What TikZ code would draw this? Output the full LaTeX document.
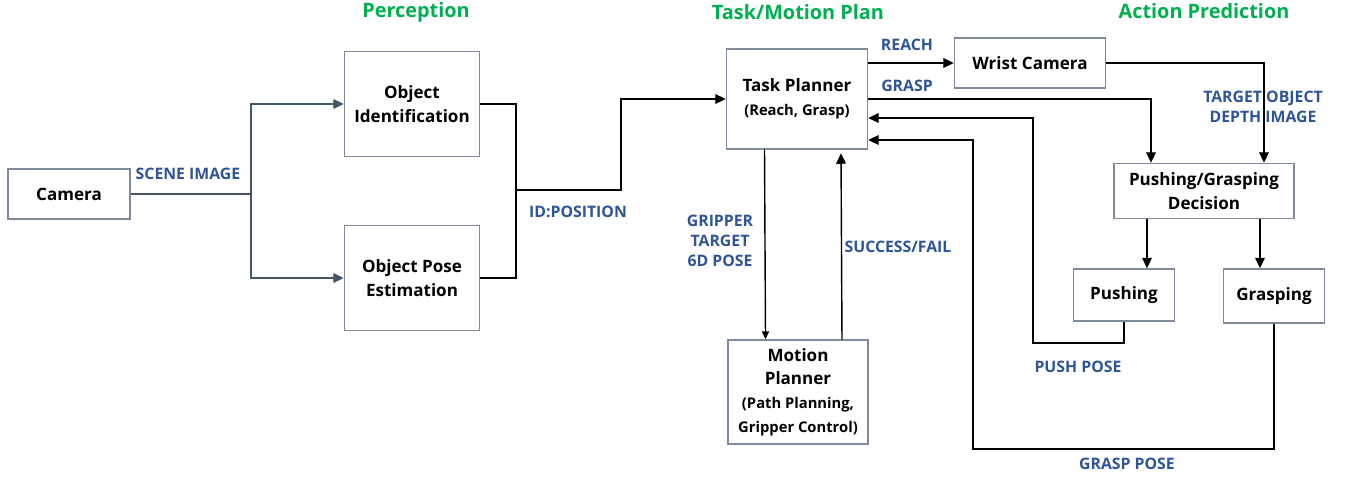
\documentclass[tikz,border=0pt]{standalone}
\usepackage{fontspec}
\setmainfont{Open Sans}
\usetikzlibrary{arrows.meta,positioning}
\definecolor{headgreen}{HTML}{00B050}
\definecolor{lblblue}{HTML}{2F5597}
\definecolor{boxline}{HTML}{7F8A9C}
\definecolor{slate}{HTML}{44546A}
\tikzset{
  box/.style={draw=boxline, line width=0.8pt, align=center, inner sep=0pt,
    font=\fontsize{9.7}{13.5}\selectfont\bfseries},
  lbl/.style={text=lblblue, align=center, inner sep=0pt,
    font=\fontsize{9}{11.4}\selectfont\bfseries},
  head/.style={text=headgreen, inner sep=0pt, font=\fontsize{11.3}{13}\selectfont\bfseries},
  wire/.style={line width=0.8pt},
  arr/.style={wire, -{Triangle[length=6pt,width=5.5pt]}},
  slatearr/.style={line width=0.8pt, draw=slate, -{Triangle[length=6pt,width=5.5pt]}}
}
\begin{document}
\begin{tikzpicture}[x=0.02cm,y=-0.02cm]
\useasboundingbox (0,0) rectangle (1347,478);
% headings
\node[head] (perchead) at (416,12) {Perception};
\node[head] (taskhead) at (798,12) {Task/Motion Plan};
\node[head] (acthead) at (1204,11) {Action Prediction};
% perception
\node[box, minimum width=2.44cm, minimum height=1cm] (cam) at (69,194) {Camera};
\node[box, minimum width=2.7cm, minimum height=2.1cm] (objid) at (412,104) {Object\\Identification};
\node[box, minimum width=2.7cm, minimum height=2.1cm] (objpose) at (412,278) {Object Pose\\Estimation};
% task/motion plan
\node[box, minimum width=2.82cm, minimum height=2cm] (task) at (797,99) {Task Planner\\{\fontsize{8.4}{11}\selectfont(Reach, Grasp)}};
\node[box, minimum width=2.8cm, minimum height=2.08cm] (motion) at (798,392) {Motion\\Planner\\{\fontsize{8.4}{11}\selectfont(Path Planning,}\\{\fontsize{8.4}{11}\selectfont Gripper Control)}};
% action prediction
\node[box, minimum width=3.02cm, minimum height=1cm] (wrist) at (1030,63) {Wrist Camera};
\node[box, minimum width=3.6cm, minimum height=1.1cm] (decide) at (1204,191) {Pushing/Grasping\\Decision};
\node[box, minimum width=2.02cm, minimum height=1.04cm] (pushing) at (1124,295) {Pushing};
\node[box, minimum width=2.02cm, minimum height=1.08cm] (grasping) at (1274,296) {Grasping};
% junctions
\coordinate (split) at (251,194);
\coordinate (merge) at (516,190);
\coordinate (jog) at (621,190);
\coordinate (pushturn) at (1033,343);
\coordinate (graspturn) at (973,449);
\coordinate (dleft) at ([xshift=-1.14cm]decide.south);
\coordinate (dright) at ([xshift=1.12cm]decide.south);
% connectors
\draw[wire, slate] (cam.east) -- (split);
\draw[slatearr] (split) |- (objid.west);
\draw[slatearr] (split) |- (objpose.west);
\draw[wire] (objid.east) -| (merge) |- (objpose.east);
\draw[arr] (merge) -- (jog) |- (task.west);
\draw[wire, -{Triangle[length=4.5pt,width=4pt]}] ([xshift=-0.65cm]task.south) -- ([xshift=-0.65cm]motion.north);
\draw[arr, shorten >=2pt] ([xshift=0.88cm]motion.north) -- ([xshift=0.88cm]task.south);
\draw[arr] (task.east |- wrist.west) -- (wrist.west);
\draw[arr] (task.east) -| ([xshift=-1.06cm]decide.north);
\draw[arr] (wrist.east) -| ([xshift=1.2cm]decide.north);
\draw[arr] (dleft) -- (dleft |- pushing.north);
\draw[arr] (dright) -- (dright |- grasping.north);
\draw[arr] (pushing.south) |- (pushturn) |- ([yshift=-0.38cm]task.east);
\draw[arr] (grasping.south) |- (graspturn) |- ([yshift=-0.82cm]task.east);
% labels
\node[lbl] (scenelbl) at (188,174) {SCENE IMAGE};
\node[lbl] (idlbl) at (578,212) {ID:POSITION};
\node[lbl] (reachlbl) at (907,45) {REACH};
\node[lbl] (grasplbl) at (907,86) {GRASP};
\node[lbl] (depthlbl) at (1263,107) {TARGET OBJECT\\DEPTH IMAGE};
\node[lbl] (gripperlbl) at (720,241) {GRIPPER\\TARGET\\6D POSE};
\node[lbl] (successlbl) at (898,247) {SUCCESS/FAIL};
\node[lbl] (pushlbl) at (1078,367) {PUSH POSE};
\node[lbl] (graspposelbl) at (1127,464) {GRASP POSE};
\end{tikzpicture}
\end{document}
